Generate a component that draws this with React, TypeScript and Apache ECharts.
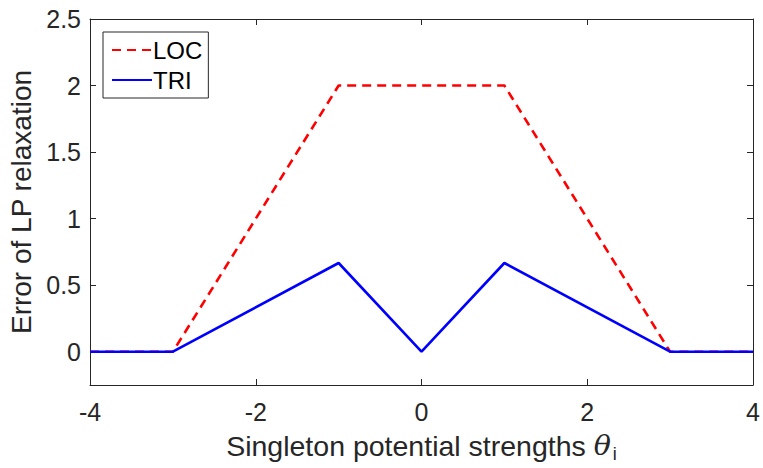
import React, { useEffect, useRef } from "react";
import * as echarts from "echarts";

const xLOC = [-4, -3, -1, 1, 3, 4];
const yLOC = [0, 0, 2, 2, 0, 0];
const xTRI = [-4, -3, -1, 0, 1, 3, 4];
const yTRI = [0, 0, 0.6667, 0, 0.6667, 0, 0];
const yTicks = [0, 0.5, 1, 1.5, 2, 2.5];
const xTickStep = 2;

const AX = "#262626";
const FONT = "'Liberation Sans', Arial, Helvetica, sans-serif";

export default function App() {
  const ref = useRef<HTMLDivElement>(null);
  useEffect(() => {
    document.body.style.margin = "0";
    const chart = echarts.init(ref.current!, null, { renderer: "svg" });
    const pair = (xs: number[], ys: number[]) => xs.map((x, i) => [x, ys[i]]);
    const tickCommon = { show: true, inside: true, length: 6, lineStyle: { color: AX, width: 1 } };
    chart.setOption({
      animation: false,
      backgroundColor: "#fff",
      textStyle: { fontFamily: FONT },
      grid: { left: 90, right: 10, top: 19, bottom: 83, containLabel: false, outerBoundsMode: "none" },
      legend: {
        left: 103,
        top: 32,
        orient: "vertical",
        backgroundColor: "#fff",
        borderColor: AX,
        borderWidth: 1,
        borderRadius: 0,
        padding: [6, 6, 6, 8],
        itemGap: 6,
        itemWidth: 40,
        itemHeight: 24,
        itemStyle: { opacity: 0 },
        textStyle: { fontSize: 24, color: "#000", fontFamily: FONT, padding: [0, 0, 0, -4] },
        data: ["LOC", "TRI"],
      },
      xAxis: [
        {
          type: "value",
          min: -4,
          max: 4,
          interval: xTickStep,
          position: "bottom",
          axisLine: { show: true, onZero: false, lineStyle: { color: AX, width: 1 } },
          axisTick: tickCommon,
          splitLine: { show: false },
          axisLabel: { color: AX, fontSize: 25, margin: 14, fontFamily: FONT },
          name: "Singleton potential strengths {t|θ}{s|i}",
          nameLocation: "middle",
          nameGap: 43,
          nameTextStyle: {
            color: AX,
            fontSize: 28.5,
            fontFamily: FONT,
            rich: {
              t: { fontSize: 28.5, fontStyle: "italic", fontFamily: "'DejaVu Serif', serif", color: AX },
              s: { fontSize: 18, color: AX, padding: [17, 0, 0, 2], fontFamily: FONT },
            },
          },
        },
        {
          type: "value",
          min: -4,
          max: 4,
          interval: xTickStep,
          position: "top",
          axisLine: { show: true, onZero: false, lineStyle: { color: AX, width: 1 } },
          axisTick: tickCommon,
          axisLabel: { show: false },
          splitLine: { show: false },
        },
      ],
      yAxis: [
        {
          type: "value",
          min: -0.25,
          max: 2.5,
          position: "left",
          axisLine: { show: true, onZero: false, lineStyle: { color: AX, width: 1 } },
          axisTick: { ...tickCommon, customValues: yTicks },
          splitLine: { show: false },
          axisLabel: {
            color: AX,
            fontSize: 25,
            margin: 9,
            fontFamily: FONT,
            customValues: yTicks,
            formatter: (v: number) => String(v),
          },
          name: "Error of LP relaxation",
          nameLocation: "middle",
          nameGap: 55,
          nameTextStyle: { color: AX, fontSize: 28, fontFamily: FONT },
        },
        {
          type: "value",
          min: -0.25,
          max: 2.5,
          position: "right",
          axisLine: { show: true, onZero: false, lineStyle: { color: AX, width: 1 } },
          axisTick: { ...tickCommon, customValues: yTicks },
          axisLabel: { show: false },
          splitLine: { show: false },
        },
      ],
      series: [
        {
          name: "LOC",
          type: "line",
          data: pair(xLOC, yLOC),
          symbol: "none",
          lineStyle: { color: "#ff0000", width: 2.6, type: [9, 6] },
          itemStyle: { color: "#ff0000" },
        },
        {
          name: "TRI",
          type: "line",
          data: pair(xTRI, yTRI),
          symbol: "none",
          lineStyle: { color: "#0000ff", width: 2.6 },
          itemStyle: { color: "#0000ff" },
        },
      ],
    });
    return () => chart.dispose();
  }, []);
  return <div ref={ref} style={{ width: 763, height: 468 }} />;
}
